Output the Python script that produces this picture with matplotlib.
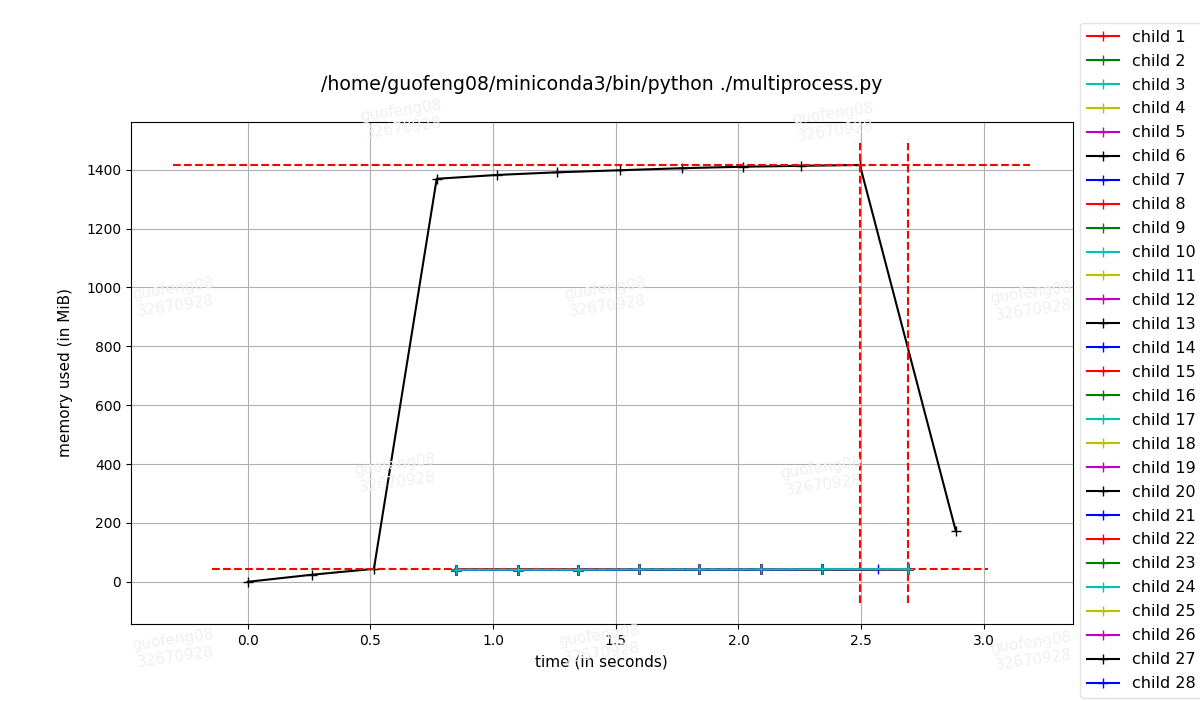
import matplotlib
matplotlib.use("Agg")
import matplotlib.pyplot as plt

# main process memory samples
main_t = [0.0, 0.261, 0.514, 0.770, 1.015, 1.260, 1.517, 1.770, 2.018, 2.254, 2.495, 2.886]
main_mem = [0, 24, 44, 1369, 1382, 1391, 1398, 1405, 1410, 1413, 1416, 173]

# children memory samples (all children nearly identical)
child_t = [0.848, 1.101, 1.346, 1.595, 1.840, 2.090, 2.340, 2.690]
child_mem = [41, 41, 41, 42, 42, 42, 43, 43]
child28_t = [0.848, 1.101, 1.346, 1.595, 1.840, 2.090, 2.340, 2.570]
child28_mem = [41, 41, 41, 42, 42, 42, 43, 43]
n_children = 28
child_colors = ['r', 'g', 'c', 'y', 'm', 'k', 'b']
child_labels = ["child %d" % (i + 1) for i in range(n_children)]

# reference (dashed) lines
max_mem = 1416
max_hline_x = [-0.306, 3.19]
min_mem = 45
min_hline_x = [-0.147, 3.017]
vline_x = [2.495, 2.690]
vline_y = [-71, 1491]

title = "/home/guofeng08/miniconda3/bin/python ./multiprocess.py"

fig = plt.figure(figsize=(12, 7.01), dpi=100)
ax = fig.add_axes([0.109, 0.110, 0.785, 0.716])

ax.plot(main_t, main_mem, '+-', color='k', markersize=7, linewidth=1.5)

for i in range(n_children):
    if i == n_children - 1:
        t, m = child28_t, child28_mem
    else:
        t, m = child_t, child_mem
    z = 2.6 if i == 23 else 2
    ax.plot(t, m, '+-', color=child_colors[i % len(child_colors)],
            markersize=7, linewidth=1.5, label=child_labels[i], zorder=z)

ax.hlines(max_mem, max_hline_x[0], max_hline_x[1], colors='r', linestyles='--', linewidth=1.5)
ax.hlines(min_mem, min_hline_x[0], min_hline_x[1], colors='r', linestyles='--', linewidth=1.5)
for vx in vline_x:
    ax.vlines(vx, vline_y[0], vline_y[1], colors='r', linestyles='--', linewidth=1.5)

ax.set_xlim(-0.477, 3.363)
ax.set_ylim(-143, 1562)
ax.set_xticks([0.0, 0.5, 1.0, 1.5, 2.0, 2.5, 3.0])
ax.set_yticks([0, 200, 400, 600, 800, 1000, 1200, 1400])
ax.grid(True, color='#b0b0b0', linewidth=0.8)
ax.tick_params(labelsize=10)
ax.set_xlabel("time (in seconds)", fontsize=11, labelpad=5)
ax.set_ylabel("memory used (in MiB)", fontsize=11, labelpad=9)
ax.set_title(title, fontsize=13.6, pad=23)

leg = ax.legend(loc='center left', bbox_to_anchor=(1.003, 0.525), fontsize=11.5,
                frameon=True, borderaxespad=0.3, handlelength=2.0, labelspacing=0.56)
leg.get_frame().set_edgecolor('#dddddd')

# faint screenshot watermarks
wm = [(0.335, 0.83), (0.695, 0.825), (0.145, 0.575), (0.505, 0.575), (0.86, 0.57),
      (0.33, 0.325), (0.685, 0.32), (0.145, 0.075), (0.5, 0.08), (0.86, 0.07)]
for (wx, wy) in wm:
    fig.text(wx, wy, "guofeng08\n32670928", color='#f0f0f0', fontsize=11,
             rotation=8, ha='center', va='center', zorder=0.5)

fig.savefig("out.png", dpi=100)
